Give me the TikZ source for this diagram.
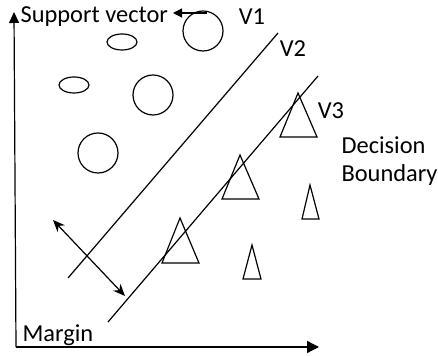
\documentclass[tikz,border=0pt]{standalone}
\usepackage{fontspec}
\setmainfont{Carlito}
\usetikzlibrary{arrows.meta,shapes.geometric}

\begin{document}
\begin{tikzpicture}[x=0.5pt, y=-0.5pt, line width=0.6pt,
    lbl/.style={font=\fontsize{12.2}{14}\selectfont, inner sep=0pt},
    dot/.style={draw, circle, minimum size=20pt, inner sep=0pt},
    oval/.style={draw, ellipse, minimum width=15pt, minimum height=8pt, inner sep=0pt}]
        \useasboundingbox (0,0) rectangle (438,356);

        \coordinate (O) at (16,347);
        \coordinate (ytop) at (14,12);
        \coordinate (xend) at (319,347);

        \draw [-{Triangle[length=5.5pt, width=5pt]}] (O) -- (ytop);
        \draw [-{Triangle[length=6pt, width=6pt]}] (O) -- (xend);

        % circles and ovals
        \node [dot] (sv) at (203,31) {};
        \node [dot] (c2) at (153,95) {};
        \node [dot] (c3) at (98,153) {};
        \node [oval] (e1) at (122,42) {};
        \node [oval] (e2) at (74,85) {};

        % triangles
        \draw (298,93) -- (317,137) -- (280,137) -- cycle;
        \draw (240,155) -- (259,199) -- (222,199) -- cycle;
        \draw (180,218) -- (199,263) -- (162,263) -- cycle;
        \draw (310,185) -- (319,219) -- (302,219) -- cycle;
        \draw (252,245) -- (261,279) -- (243,279) -- cycle;

        % boundary lines
        \coordinate (V2a) at (68,278);
        \coordinate (V2b) at (278,33);
        \coordinate (V3a) at (108,322);
        \coordinate (V3b) at (318,76);
        \draw (V2a) -- (V2b);
        \draw (V3a) -- (V3b);

        % margin
        \coordinate (M1) at (53,220);
        \coordinate (M2) at (125,296);
        \draw [{Stealth[length=6pt, width=5pt]}-{Stealth[length=6pt, width=5pt]}] (M1) -- (M2);

        \node [lbl, anchor=west] (svlabel) at (20,17) {Support vector};
        \coordinate (svstart) at (207,13);
        \coordinate (svtip) at (173,13);
        \draw [-{Triangle[length=4.5pt, width=4.5pt]}] (svstart) -- (svtip);

        \node [lbl] (v1) at (252,17) {V1};
        \node [lbl] (v2) at (293,49) {V2};
        \node [lbl] (v3) at (331,111) {V3};
        \node [lbl, anchor=west] (dec) at (341,145) {Decision};
        \node [lbl, anchor=west] (bnd) at (341,175) {Boundary};
        \node [lbl, anchor=west] (margin) at (22,335) {Margin};
      \end{tikzpicture}
\end{document}
